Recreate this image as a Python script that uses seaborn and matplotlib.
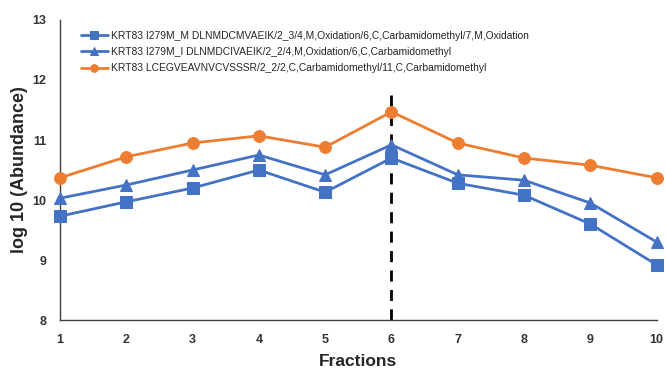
import matplotlib
matplotlib.use("Agg")
import matplotlib.pyplot as plt
import seaborn as sns
import pandas as pd

fractions = [1, 2, 3, 4, 5, 6, 7, 8, 9, 10]
series_names = [
    "KRT83 I279M_M DLNMDCMVAEIK/2_3/4,M,Oxidation/6,C,Carbamidomethyl/7,M,Oxidation",
    "KRT83 I279M_I DLNMDCIVAEIK/2_2/4,M,Oxidation/6,C,Carbamidomethyl",
    "KRT83 LCEGVEAVNVCVSSSR/2_2/2,C,Carbamidomethyl/11,C,Carbamidomethyl",
]
square_vals = [9.73, 9.97, 10.20, 10.50, 10.13, 10.70, 10.28, 10.08, 9.60, 8.92]
triangle_vals = [10.03, 10.25, 10.50, 10.75, 10.42, 10.92, 10.42, 10.33, 9.95, 9.30]
circle_vals = [10.37, 10.72, 10.95, 11.07, 10.88, 11.47, 10.95, 10.70, 10.58, 10.37]
y_ticks = [8, 9, 10, 11, 12, 13]

sns.set_theme(style="white")
plt.rcParams['font.family'] = ['Liberation Sans', 'DejaVu Sans']

fig = plt.figure(figsize=(6.66, 3.70), dpi=100)
ax = fig.add_axes([0.09, 0.135, 0.896, 0.811])

blue = "#4472C4"
orange = "#ED7D31"
specs = [
    (series_names[0], square_vals, blue, "s", 8.5),
    (series_names[1], triangle_vals, blue, "^", 8.5),
    (series_names[2], circle_vals, orange, "o", 8.5),
]
for name, vals, col, mk, ms in specs:
    df = pd.DataFrame({"Fraction": fractions, "Value": vals})
    sns.lineplot(data=df, x="Fraction", y="Value", ax=ax, color=col, marker=mk,
                 markersize=ms, markeredgecolor=col, linewidth=2, label=name,
                 clip_on=False, zorder=3)

ax.plot([6, 6], [8, 11.83], color="black", linestyle=(0, (4, 3)), linewidth=2, zorder=2)

ax.set_xlim(1, 10)
ax.set_ylim(8, 13)
ax.set_xticks(fractions)
ax.set_yticks(y_ticks)
ax.set_xticklabels([str(f) for f in fractions], fontweight="bold", fontsize=9)
ax.set_yticklabels([str(t) for t in y_ticks], fontweight="bold", fontsize=9)
ax.tick_params(axis="x", length=0, pad=10, colors="#333333")
ax.tick_params(axis="y", length=0, pad=10, colors="#333333")
for s in ["top", "right"]:
    ax.spines[s].set_visible(False)
for s in ["left", "bottom"]:
    ax.spines[s].set_color("#404040")
    ax.spines[s].set_linewidth(1)
ax.grid(False)

ax.set_xlabel("Fractions", fontweight="bold", fontsize=12.5, labelpad=6)
ax.set_ylabel("log 10 (Abundance)", fontweight="bold", fontsize=13, labelpad=3)

leg = ax.legend(loc="upper left", bbox_to_anchor=(0.025, 0.985), frameon=False,
                fontsize=7.4, handlelength=2.6, labelspacing=0.62, borderaxespad=0.2,
                handletextpad=0.3)
for h in leg.legend_handles:
    h.set_markersize(5.5)
    h.set_linewidth(2)

fig.savefig("out.png", dpi=100)
